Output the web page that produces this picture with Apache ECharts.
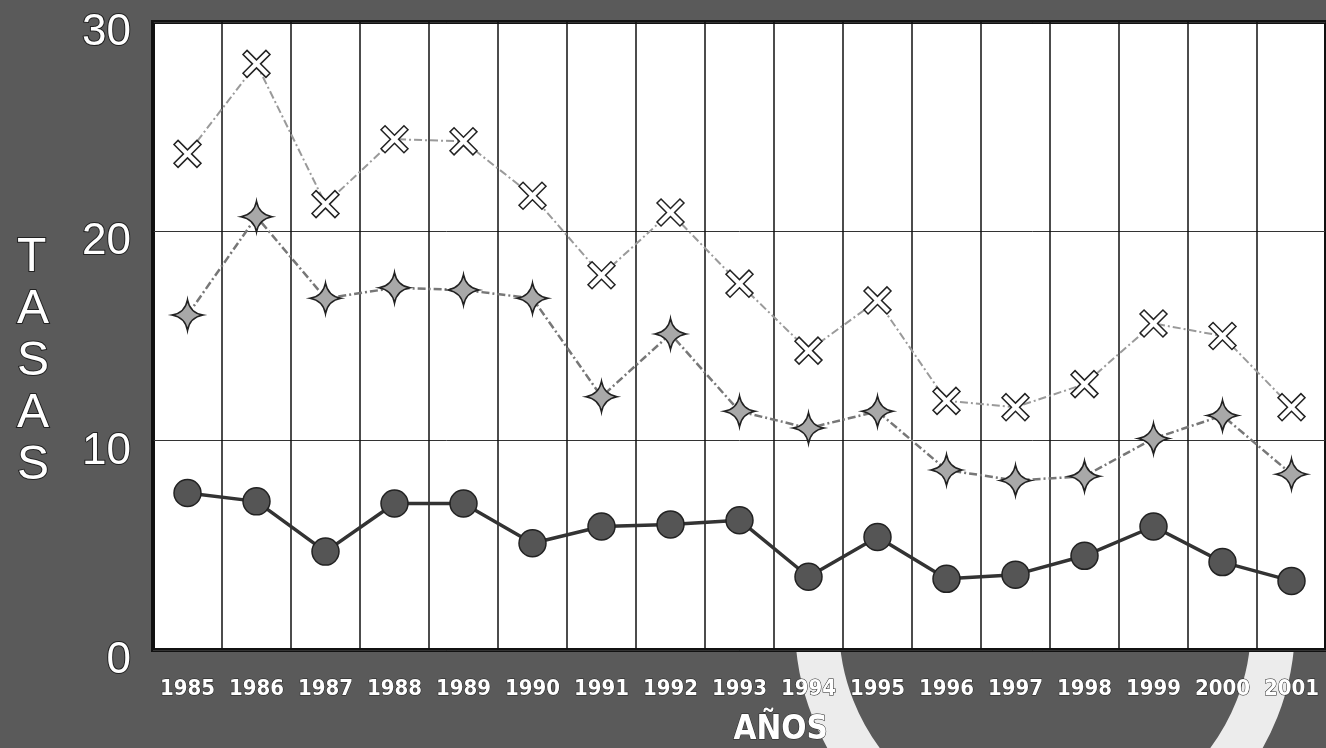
<!DOCTYPE html>
<html>
<head>
<meta charset="utf-8">
<title>Tasas 1985-2001</title>
<script src="https://cdn.jsdelivr.net/npm/echarts@6/dist/echarts.min.js"></script>
<style>
  html, body { margin: 0; padding: 0; background: #5a5a5a; }
  #chart { width: 1326px; height: 748px; }
</style>
</head>
<body>
<div id="chart"></div>
<script>
// años (eje x)
var years = ['1985', '1986', '1987', '1988', '1989', '1990', '1991', '1992', '1993',
  '1994', '1995', '1996', '1997', '1998', '1999', '2000', '2001'];
// marcas del eje y
var yTicks = [0, 10, 20, 30];
// serie superior (aspas)
var serieAlta = [23.7, 28.0, 21.3, 24.4, 24.3, 21.7, 17.9, 20.9, 17.5, 14.3, 16.7, 11.9, 11.6, 12.7, 15.6, 15.0, 11.6];
// serie media (estrellas)
var serieMedia = [16.0, 20.7, 16.8, 17.3, 17.2, 16.8, 12.1, 15.1, 11.4, 10.6, 11.4, 8.6, 8.1, 8.3, 10.1, 11.2, 8.4];
// serie inferior (circulos)
var serieBaja = [7.5, 7.1, 4.7, 7.0, 7.0, 5.1, 5.9, 6.0, 6.2, 3.5, 5.4, 3.4, 3.6, 4.5, 5.9, 4.2, 3.3];

var symAspa = 'path://M3,0 L10,7 L17,0 L20,3 L13,10 L20,17 L17,20 L10,13 L3,20 L0,17 L7,10 L0,3 Z';
var symEstrella = 'path://M10,0 Q11.5,8.5 20,10 Q11.5,11.5 10,20 Q8.5,11.5 0,10 Q8.5,8.5 10,0 Z';

var chart = echarts.init(document.getElementById('chart'));

var option = {
  backgroundColor: '#5a5a5a',
  animation: false,
  grid: {
    left: 153,
    top: 22,
    width: 1178,
    height: 628,
    show: true,
    backgroundColor: '#fff',
    borderColor: '#111',
    borderWidth: 4
  },
  graphic: [
    {
      // reflejo claro bajo el grafico
      type: 'circle',
      z: -10,
      shape: { cx: 1045, cy: 625, r: 228 },
      style: { fill: 'none', stroke: '#ececec', lineWidth: 44 }
    },
    {
      type: 'text',
      left: 16,
      top: 232,
      style: {
        text: 'T\nA\nS\nA\nS',
        fill: '#fff',
        stroke: '#222',
        lineWidth: 2,
        font: '48px "Liberation Sans", Arial, sans-serif',
        lineHeight: 52,
        align: 'center',
        x: 0
      }
    },
    {
      type: 'text',
      left: 733,
      top: 713,
      style: {
        text: 'AÑOS',
        fill: '#fff',
        stroke: '#222',
        lineWidth: 1,
        font: 'bold 33px "DejaVu Sans Condensed", Arial, sans-serif'
      }
    }
  ],
  xAxis: {
    type: 'category',
    data: years,
    boundaryGap: true,
    axisLine: { show: false },
    axisTick: { show: false },
    splitLine: { show: true, lineStyle: { color: '#111', width: 1.5 } },
    axisLabel: {
      interval: 0,
      margin: 28,
      color: '#fff',
      fontSize: 22,
      fontWeight: 'bold',
      fontFamily: '"DejaVu Sans Condensed", Arial, sans-serif',
      textBorderColor: '#222',
      textBorderWidth: 1
    }
  },
  yAxis: {
    type: 'value',
    min: yTicks[0],
    max: yTicks[yTicks.length - 1],
    interval: 10,
    axisLine: { show: false },
    axisTick: { show: false },
    splitLine: { show: true, lineStyle: { color: '#333', width: 1 } },
    axisLabel: {
      margin: 22,
      formatter: function (v) { return yTicks.indexOf(v) >= 0 ? '{v|' + v + '}' : ''; },
      rich: {
        v: {
          padding: [22, 0, 0, 0],
          color: '#fff',
          fontSize: 44,
          fontFamily: '"Liberation Sans", Arial, sans-serif',
          textBorderColor: '#222',
          textBorderWidth: 2
        }
      }
    }
  },
  series: [
    {
      name: 'alta',
      type: 'line',
      data: serieAlta,
      symbol: symAspa,
      symbolSize: 27,
      itemStyle: { color: '#fff', borderColor: '#222', borderWidth: 1.5 },
      lineStyle: { color: '#9a9a9a', width: 2, type: [8, 3, 2, 3] },
      z: 3
    },
    {
      name: 'media',
      type: 'line',
      data: serieMedia,
      symbol: symEstrella,
      symbolSize: 31,
      itemStyle: { color: '#a8a8a8', borderColor: '#222', borderWidth: 1.5 },
      lineStyle: { color: '#777', width: 2.5, type: [8, 3, 2, 3] },
      z: 4
    },
    {
      name: 'baja',
      type: 'line',
      data: serieBaja,
      symbol: 'circle',
      symbolSize: 27,
      itemStyle: { color: '#555', borderColor: '#222', borderWidth: 1.5 },
      lineStyle: { color: '#333', width: 3.5 },
      z: 5
    }
  ]
};

chart.setOption(option);
</script>
</body>
</html>
